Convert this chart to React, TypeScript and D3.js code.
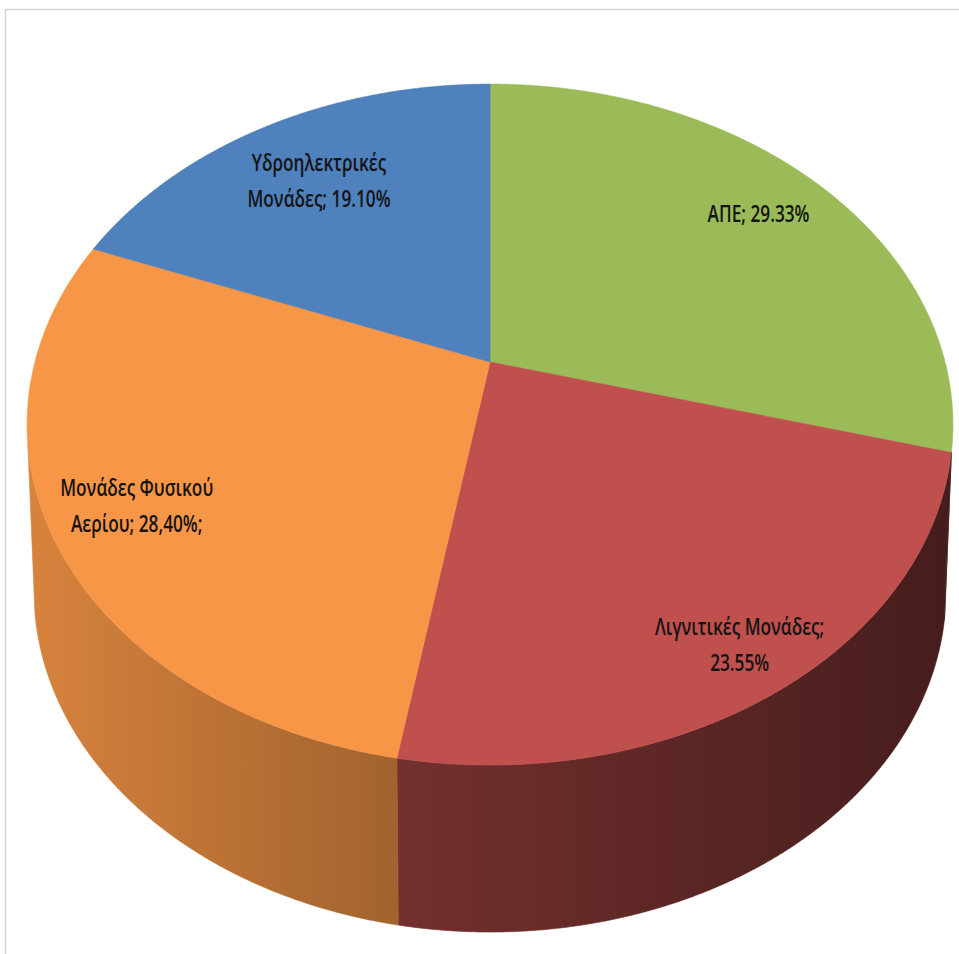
import React from "react";
import * as d3 from "d3";

// ---- data ----
const categories = ["ΑΠΕ", "Λιγνιτικές Μονάδες", "Μονάδες Φυσικού Αερίου", "Υδροηλεκτρικές Μονάδες"];
const values = [29.33, 23.55, 28.4, 19.1];
const labelLines = [
  ["ΑΠΕ; 29.33%"],
  ["Λιγνιτικές Μονάδες;", "23.55%"],
  ["Μονάδες Φυσικού", "Αερίου; 28,40%;"],
  ["Υδροηλεκτρικές", "Μονάδες; 19.10%"],
];

// ---- styles / layout ----
const colors = ["#9BBB59", "#C0504D", "#F79646", "#4F81BD"];
const sideShade = [
  [0.8, 0.4],
  [0.76, 0.36],
  [0.87, 0.33],
  [0.87, 0.33],
];
const labelRadius = [0.81, 0.88, 0.825, 0.743];

const W = 959;
const H = 954;
const CX = 490;
const CY = 362;
const K = 1711;
const DIST = 3.76;
const ELEV = Math.asin(0.723);
const SIN = Math.sin(ELEV);
const COS = Math.cos(ELEV);
const DEPTH = 167;
const BOTTOM_SCALE = 0.985;
const SIDE_MIN = (105 * Math.PI) / 180;
const SIDE_MAX = (256 * Math.PI) / 180;
const FONT = "'Open Sans', 'DejaVu Sans Condensed', sans-serif";
const FONT_SIZE = 23;
const FONT_SCALE_X = 0.75;
const LINE_GAP = 36;

function project(phi: number, r = 1): [number, number] {
  const X = r * Math.sin(phi);
  const Y = r * Math.cos(phi);
  const zc = DIST + Y * COS;
  return [CX + (K * X) / zc, CY - (K * Y * SIN) / zc];
}
function projectBottom(phi: number): [number, number] {
  const [x, y] = project(phi);
  return [CX + BOTTOM_SCALE * (x - CX), y + DEPTH];
}
function sample(a: number, b: number, f: (p: number) => [number, number]) {
  const n = Math.max(2, Math.ceil(Math.abs(b - a) / (Math.PI / 720)));
  const pts: [number, number][] = [];
  for (let i = 0; i <= n; i++) pts.push(f(a + ((b - a) * i) / n));
  return pts;
}
function shade(c: string, f: number) {
  const rgb = d3.rgb(c);
  return d3.rgb(rgb.r * f, rgb.g * f, rgb.b * f).formatHex();
}

export default function App() {
  const arcs = d3.pie<number>().sort(null).value((d) => d)(values);
  const line = d3.line();

  return (
    <svg
      width={W}
      height={H}
      style={{ position: "fixed", left: 0, top: 0, background: "#fff" }}
    >
      <defs>
        {arcs.map((a, i) => (
          <linearGradient
            key={i}
            id={`side-${i}`}
            gradientUnits="userSpaceOnUse"
            x1={30}
            x2={950}
            y1={0}
            y2={0}
          >
            <stop offset="0" stopColor={shade(colors[i], sideShade[i][0])} />
            <stop offset="1" stopColor={shade(colors[i], sideShade[i][1])} />
          </linearGradient>
        ))}
      </defs>
      <rect x={5.5} y={9.5} width={1000} height={1000} fill="none" stroke="#d2d2d2" strokeWidth={1.5} />

      {/* sides */}
      {arcs.map((a, i) => {
        const s = Math.max(a.startAngle, SIDE_MIN);
        const e = Math.min(a.endAngle, SIDE_MAX);
        if (e <= s) return null;
        const top = sample(s, e, project);
        const bot = sample(e, s, projectBottom);
        const d = line([...top, ...bot]) + "Z";
        return (
          <path
            key={"s" + i}
            d={d}
            fill={`url(#side-${i})`}
            stroke={`url(#side-${i})`}
            strokeWidth={0.6}
          />
        );
      })}

      {/* top faces */}
      {arcs.map((a, i) => {
        const pts = [project(0, 0), ...sample(a.startAngle, a.endAngle, project)];
        const d = line(pts) + "Z";
        return <path key={"t" + i} d={d} fill={colors[i]} stroke={colors[i]} strokeWidth={0.6} />;
      })}

      {/* labels */}
      {arcs.map((a, i) => {
        const mid = (a.startAngle + a.endAngle) / 2;
        const [lx, ly] = project(mid, labelRadius[i]);
        const lines = labelLines[i];
        const cap = FONT_SIZE * 0.714;
        const b1 = ly - ((lines.length - 1) * LINE_GAP - cap) / 2;
        return (
          <g key={"l" + i} transform={`translate(${lx},0) scale(${FONT_SCALE_X},1)`}>
            <text
              textAnchor="middle"
              fontFamily={FONT}
              fontSize={FONT_SIZE}
              fontWeight={600}
              fill="#141414"
            >
              {lines.map((t, j) => (
                <tspan key={j} x={0} y={b1 + j * LINE_GAP}>
                  {t}
                </tspan>
              ))}
            </text>
          </g>
        );
      })}
    </svg>
  );
}
